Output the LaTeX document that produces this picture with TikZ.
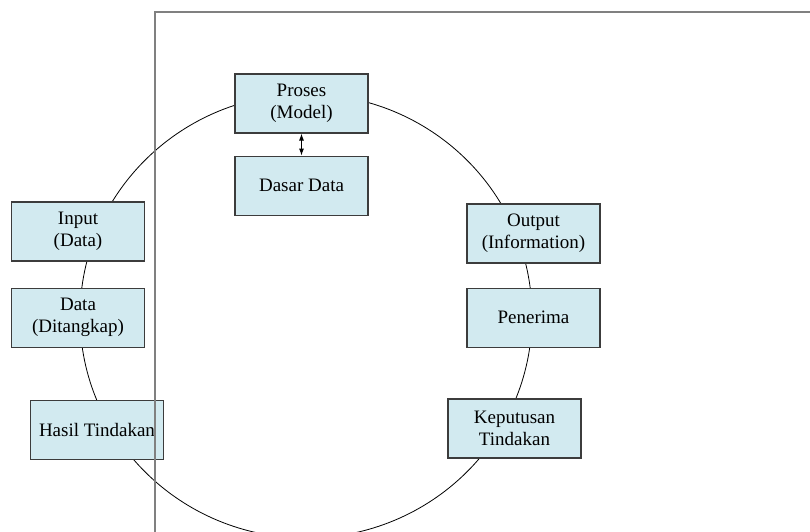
\documentclass[tikz,border=0pt]{standalone}
\usepackage{fontspec}
\setmainfont{Liberation Serif}
\usetikzlibrary{arrows.meta, positioning}
\definecolor{boxfill}{RGB}{210,234,240}
\definecolor{boxline}{RGB}{60,60,60}
\definecolor{frameline}{RGB}{128,128,128}

\begin{document}
\begin{tikzpicture}[
        x=1pt, y=-1pt,
        % ukuran kotak disamakan
        box/.style={rectangle, draw=boxline, line width=1.1pt, fill=boxfill, minimum width=133pt, minimum height=59pt, align=center, inner sep=2pt, font=\fontsize{19}{22}\selectfont},
        arrow/.style={arrows={Latex[length=7pt, width=5pt]-Latex[length=7pt, width=5pt]}, line width=0.9pt}
    ]

    \useasboundingbox (0,0) rectangle (810,531);
    \clip (0,0) rectangle (810,531);

    % Siklus
    \draw[line width=0.8pt] (306,316) ellipse [x radius=226pt, y radius=222pt];

    % Kotak-kotak (Nodes)
    \node (proses) [box] at (301.5,103.5) {Proses\\(Model)};
    \node (dasar) [box, below=22pt of proses] {Dasar Data};

    \node (input) [box] at (78,231.5) {Input\\(Data)};
    \node (data) [box, below=26pt of input] {Data\\(Ditangkap)};
    \node (hasil) [box] at (97,430) {Hasil Tindakan};

    \node (output) [box] at (533.5,233.5) {Output\\(Information)};
    \node (penerima) [box, below=24pt of output] {Penerima};
    \node (keputusan) [box] at (514.5,428.5) {Keputusan\\Tindakan};

    % Panah
    \draw [arrow] (proses) -- (dasar);

    % Bingkai
    \draw[frameline, line width=1.4pt] (155,560) -- (155,12) -- (830,12);

\end{tikzpicture}
\end{document}
